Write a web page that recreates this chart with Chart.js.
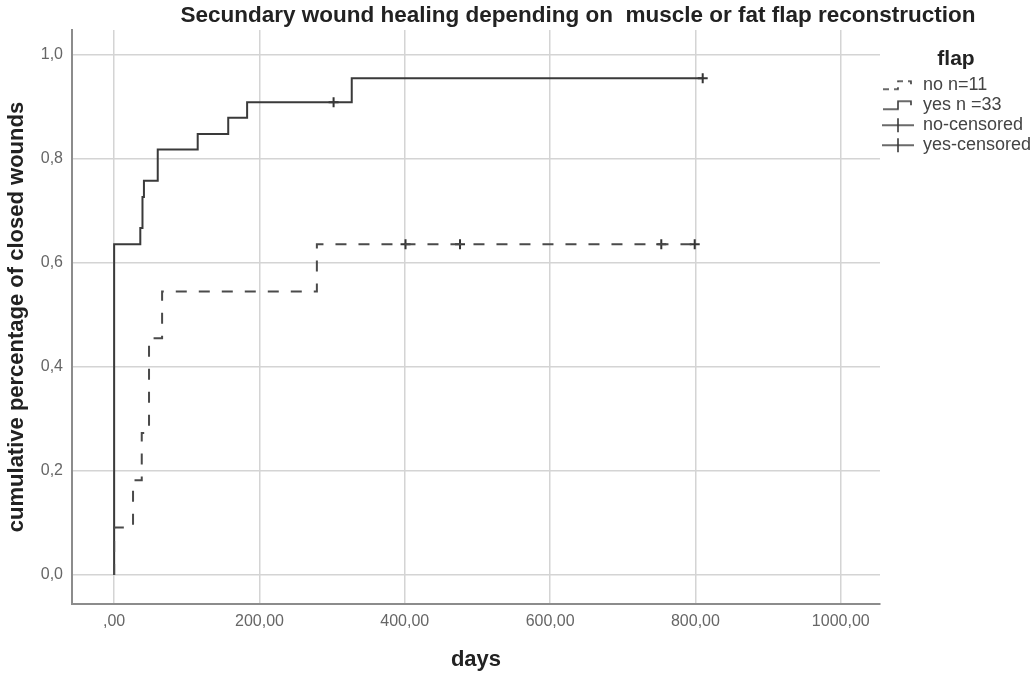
<!DOCTYPE html>
<html>
<head>
<meta charset="utf-8">
<title>Secundary wound healing</title>
<script src="https://cdn.jsdelivr.net/npm/chart.js@4.4.1/dist/chart.umd.min.js"></script>
<style>
    html, body { margin: 0; padding: 0; background: #fff; }
    .chart-box { width: 1032px; height: 676px; }
</style>
</head>
<body>
<div class="chart-box"><canvas id="km-chart"></canvas></div>
<script>
// kaplan-meier steps: days / cumulative fraction of closed wounds
const noDays = [0, 0, 26, 38, 48, 66, 279, 800];
const noClosed = [0, 0.091, 0.182, 0.273, 0.455, 0.545, 0.636, 0.636];
const yesDays = [0, 0, 36, 39, 41, 60, 115, 157, 183, 327, 810];
const yesClosed = [0, 0.636, 0.667, 0.727, 0.758, 0.818, 0.848, 0.879, 0.909, 0.955, 0.955];

// censored cases
const noCensDays = [401, 476, 753, 799];
const noCensClosed = [0.636, 0.636, 0.636, 0.636];
const yesCensDays = [302, 810];
const yesCensClosed = [0.909, 0.955];

const xTicks = [0, 200, 400, 600, 800, 1000];
const yTicks = [0, 0.2, 0.4, 0.6, 0.8, 1.0];
const seriesNames = ["no n=11", "yes n =33", "no-censored", "yes-censored"];
const chartTitle = "Secundary wound healing depending on  muscle or fat flap reconstruction";

(function () {

    let font = "'Liberation Sans', Arial, sans-serif";

    function toPoints(xs, ys) {
        let pts = [];
        for (let i = 0; i < xs.length; i++) {
            pts.push({ x: xs[i], y: ys[i] });
        }
        return pts;
    }

    // little canvases used as legend symbols
    function makeIcon(kind) {
        let c = document.createElement("canvas");
        c.width = 32;
        c.height = 16;
        let g = c.getContext("2d");
        g.strokeStyle = "#3a3a3a";
        g.lineWidth = 1.6;
        g.beginPath();
        if (kind == "step" || kind == "dash") {
            if (kind == "dash") g.setLineDash([6, 5]);
            g.moveTo(1, 12);
            g.lineTo(16, 12);
            g.lineTo(16, 4);
            g.lineTo(29, 4);
            g.lineTo(29, 8);
        } else {
            g.moveTo(0, 8);
            g.lineTo(32, 8);
            g.moveTo(16, 1);
            g.lineTo(16, 15);
        }
        g.stroke();
        return c;
    }

    let icons = [makeIcon("dash"), makeIcon("step"), makeIcon("cross"), makeIcon("cross")];

    function xLabel(v) {
        if (v == 0) return ",00";
        return v.toFixed(2).replace(".", ",");
    }

    function yLabel(v) {
        return v.toFixed(1).replace(".", ",");
    }

    // title is offset to the right in the original, so it is painted by hand
    let topTitle = {
        id: "topTitle",
        afterDraw(chart) {
            let ctx = chart.ctx;
            ctx.save();
            ctx.font = "bold 22.5px " + font;
            ctx.fillStyle = "#222";
            ctx.textAlign = "center";
            ctx.textBaseline = "middle";
            ctx.fillText(chartTitle, 578, 16);
            ctx.restore();
        }
    };

    let ctx = document.getElementById("km-chart");
    let kmChart = new Chart(ctx, {
        type: "line",
        data: {
            datasets: [
                {
                    label: seriesNames[0],
                    data: toPoints(noDays, noClosed),
                    stepped: true,
                    borderColor: "#4a4a4a",
                    borderWidth: 2,
                    borderDash: [11, 12],
                    pointRadius: 0,
                    fill: false
                },
                {
                    label: seriesNames[1],
                    data: toPoints(yesDays, yesClosed),
                    stepped: true,
                    borderColor: "#3a3a3a",
                    borderWidth: 2,
                    pointRadius: 0,
                    fill: false
                },
                {
                    label: seriesNames[2],
                    data: toPoints(noCensDays, noCensClosed),
                    showLine: false,
                    pointStyle: "cross",
                    pointRadius: 5,
                    pointBorderWidth: 2,
                    pointBorderColor: "#333",
                    borderColor: "#333"
                },
                {
                    label: seriesNames[3],
                    data: toPoints(yesCensDays, yesCensClosed),
                    showLine: false,
                    pointStyle: "cross",
                    pointRadius: 5,
                    pointBorderWidth: 2,
                    pointBorderColor: "#333",
                    borderColor: "#333"
                }
            ]
        },
        options: {
            responsive: true,
            maintainAspectRatio: false,
            animation: false,
            devicePixelRatio: 1,
            layout: { padding: { top: 30, right: 0, bottom: 0, left: 0 } },
            plugins: {
                tooltip: { enabled: false },
                legend: {
                    position: "right",
                    align: "start",
                    maxWidth: 152,
                    title: {
                        display: true,
                        text: "flap",
                        color: "#222",
                        font: { family: font, size: 21, weight: "bold" },
                        padding: { top: 19, bottom: 0 }
                    },
                    labels: {
                        usePointStyle: true,
                        pointStyleWidth: 32,
                        padding: 2,
                        color: "#444",
                        font: { family: font, size: 18 },
                        generateLabels: function () {
                            return seriesNames.map(function (name, i) {
                                return {
                                    text: name,
                                    pointStyle: icons[i],
                                    datasetIndex: i,
                                    fillStyle: "transparent",
                                    strokeStyle: "transparent",
                                    lineWidth: 0,
                                    hidden: false,
                                    fontColor: "#444"
                                };
                            });
                        }
                    }
                }
            },
            scales: {
                x: {
                    type: "linear",
                    min: -58,
                    max: 1054,
                    afterBuildTicks: function (scale) {
                        scale.ticks = xTicks.map(function (v) { return { value: v }; });
                    },
                    afterFit: function (scale) { scale.height = 72; },
                    ticks: {
                        callback: xLabel,
                        color: "#666",
                        font: { family: font, size: 16 },
                        padding: 8,
                        maxRotation: 0,
                        autoSkip: false
                    },
                    grid: { color: "#d4d4d4", lineWidth: 1.5, drawTicks: false },
                    border: { color: "#8c8c8c", width: 2 },
                    title: {
                        display: true,
                        text: "days",
                        color: "#222",
                        font: { family: font, size: 22, weight: "bold" },
                        padding: { top: 4, bottom: 3 }
                    }
                },
                y: {
                    min: -0.056,
                    max: 1.048,
                    afterBuildTicks: function (scale) {
                        scale.ticks = yTicks.map(function (v) { return { value: v }; });
                    },
                    afterFit: function (scale) { scale.width = 72; },
                    ticks: {
                        callback: yLabel,
                        color: "#666",
                        font: { family: font, size: 16 },
                        padding: 9
                    },
                    grid: { color: "#d4d4d4", lineWidth: 1.5, drawTicks: false },
                    border: { color: "#8c8c8c", width: 2 },
                    title: {
                        display: true,
                        text: "cumulative percentage of closed wounds",
                        color: "#222",
                        font: { family: font, size: 22, weight: "bold" },
                        padding: { top: 4, bottom: 4 }
                    }
                }
            }
        },
        plugins: [topTitle]
    });

})();
</script>
</body>
</html>
